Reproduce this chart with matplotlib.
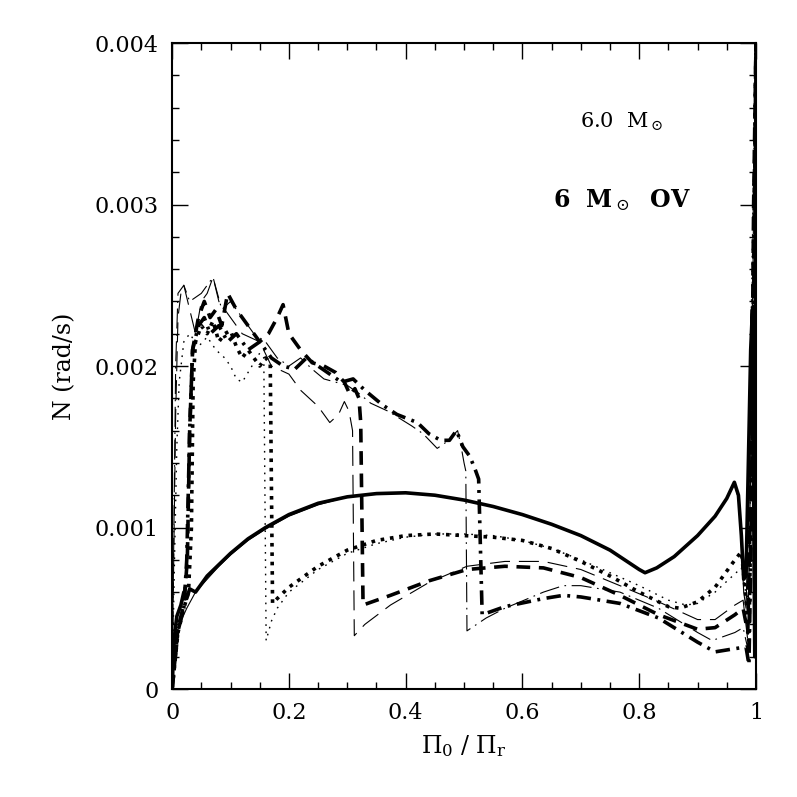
import numpy as np
import matplotlib
matplotlib.use("Agg")
import matplotlib.pyplot as plt
from matplotlib.ticker import FixedLocator, FixedFormatter, MultipleLocator

plt.rcParams["font.family"] = ["DejaVu Serif", "DejaVu Sans"]
plt.rcParams["mathtext.fontset"] = "dejavuserif"

# N in units of 1e-3 rad/s, x = Pi_0 / Pi_r
# solid: ZAMS models
x_solid_ov = [0, .003, .008, .015, .02, .025, .03, .04, .06, .08, .1, .13, .16, .2, .25, .3,
              .35, .4, .45, .5, .55, .6, .65, .7, .75, .8, .81, .83, .86, .9, .93, .95, .963,
              .97, .975, .979, .983, .987, .991, .994, .996, .998, 1.0]
y_solid_ov = [0, .3, .45, .52, .6, .56, .62, .6, .7, .77, .84, .93, 1.0, 1.08, 1.15, 1.19,
              1.21, 1.215, 1.2, 1.17, 1.13, 1.08, 1.02, .95, .86, .74, .72, .75, .82, .95, 1.07,
              1.18, 1.28, 1.2, .95, .68, .7, 1.4, 2.1, 2.35, 1.2, .2, 4.0]
x_solid = [0, .003, .008, .015, .025, .04, .06, .08, .1, .13, .16, .2, .25, .3, .35, .4, .45,
           .5, .55, .6, .65, .7, .75, .8, .81, .83, .86, .9, .93, .95, .963, .97, .975, .979,
           .983, .988, .993, .997, 1.0]
y_solid = [0, .25, .35, .42, .5, .6, .68, .76, .83, .92, .99, 1.07, 1.14, 1.19, 1.21, 1.215,
           1.2, 1.17, 1.13, 1.08, 1.02, .95, .86, .74, .72, .75, .82, .95, 1.07, 1.18, 1.27,
           1.18, .9, .6, .5, 1.2, 2.2, 1.0, 3.8]

# dotted
x_dot = [0, .004, .008, .012, .02, .03, .045, .06, .075, .09, .1, .11, .12, .13, .14, .15,
         .157, .161, .17, .18, .2, .25, .3, .35, .4, .45, .5, .55, .6, .65, .7, .75, .8, .85,
         .88, .9, .93, .96, .975, .985, .99, .995, 1.0]
y_dot = [0, .8, 1.5, 1.9, 2.15, 2.2, 2.12, 2.18, 2.1, 2.05, 2.0, 1.92, 1.9, 1.96, 2.02, 2.08,
         2.05, .3, .42, .5, .6, .74, .84, .9, .94, .96, .96, .95, .92, .87, .8, .72, .64, .55,
         .52, .53, .6, .7, .75, .55, 1.8, 3.0, 4.0]
x_dot_ov = [0, .01, .02, .028, .033, .036, .04, .05, .06, .07, .08, .09, .1, .11, .12, .13,
            .14, .15, .16, .168, .172, .18, .2, .25, .3, .35, .4, .45, .5, .55, .6, .65, .7,
            .75, .8, .85, .87, .9, .93, .96, .975, .982, .988, .993, .997, 1.0]
y_dot_ov = [0, .35, .5, .6, 1.0, 1.9, 2.15, 2.25, 2.2, 2.28, 2.15, 2.2, 2.22, 2.12, 2.05, 2.1,
            2.05, 2.0, 2.05, 2.02, .53, .56, .63, .76, .86, .92, .95, .96, .95, .94, .92, .87,
            .79, .7, .6, .51, .5, .54, .63, .78, .85, .6, .3, 1.5, 3.0, 4.0]

# dashed
x_dash = [0, .003, .006, .01, .015, .02, .03, .04, .05, .06, .07, .08, .09, .1, .12, .15, .17,
          .2, .22, .25, .27, .285, .295, .303, .309, .312, .33, .374, .44, .505, .57, .636, .7,
          .767, .833, .9, .93, .964, .978, .986, .992, .996, 1.0]
y_dash = [0, .9, 1.7, 2.3, 2.45, 2.5, 2.35, 2.2, 2.4, 2.45, 2.55, 2.4, 2.35, 2.3, 2.2, 2.15,
          2.0, 1.95, 1.85, 1.75, 1.65, 1.7, 1.78, 1.72, 1.6, .33, .4, .52, .66, .76, .79, .79,
          .74, .64, .54, .43, .43, .52, .55, .3, 1.6, 3.2, 4.0]
x_dash_ov = [0, .01, .02, .026, .03, .035, .045, .055, .065, .075, .085, .095, .11, .13, .15,
             .165, .18, .19, .2, .22, .24, .26, .28, .295, .305, .313, .32, .323, .327, .374,
             .44, .505, .57, .636, .7, .767, .833, .9, .93, .964, .978, .986, .992, .996, 1.0]
y_dash_ov = [0, .38, .52, .8, 1.6, 2.1, 2.3, 2.4, 2.3, 2.35, 2.25, 2.45, 2.35, 2.25, 2.15, 2.2,
             2.3, 2.38, 2.2, 2.1, 2.02, 2.0, 1.96, 1.9, 1.82, 1.86, 1.8, 1.65, .52, .58, .67,
             .74, .76, .75, .69, .58, .46, .37, .38, .46, .5, .35, 1.4, 3.0, 4.0]

# dash-dot
x_dd = [0, .003, .006, .01, .02, .03, .05, .07, .085, .1, .12, .14, .16, .18, .2, .22, .24,
        .26, .28, .3, .32, .34, .37, .41, .43, .454, .47, .489, .495, .5, .503, .505, .538,
        .57, .636, .67, .7, .767, .833, .9, .925, .964, .978, .986, .992, .996, 1.0]
y_dd = [0, 1.0, 2.0, 2.45, 2.5, 2.4, 2.45, 2.55, 2.35, 2.4, 2.3, 2.2, 2.15, 2.05, 2.0, 2.05,
        1.98, 1.92, 1.9, 1.88, 1.83, 1.77, 1.72, 1.63, 1.58, 1.49, 1.53, 1.6, 1.5, 1.4,
        1.35, .36, .44, .5, .6, .64, .64, .6, .5, .35, .3, .35, .38, .25, 1.5, 3.0, 4.0]
x_dd_ov = [0, .01, .02, .025, .03, .035, .045, .055, .065, .08, .095, .11, .13, .15, .17, .19,
           .21, .23, .25, .27, .29, .31, .33, .36, .385, .42, .44, .46, .475, .487, .498, .51,
           .52, .525, .531, .57, .636, .67, .7, .767, .833, .9, .93, .964, .983, .988, .993,
           .997, 1.0]
y_dd_ov = [0, .36, .5, .8, 1.6, 2.1, 2.25, 2.3, 2.2, 2.25, 2.15, 2.2, 2.1, 2.15, 2.05, 2.0,
           1.98, 2.05, 2.0, 1.95, 1.9, 1.92, 1.85, 1.76, 1.7, 1.65, 1.58, 1.54, 1.54, 1.6, 1.5,
           1.44, 1.35, 1.3, .46, .51, .56, .58, .57, .53, .44, .29, .23, .25, .26, .15, 1.2,
           2.8, 4.0]

x_ticks = [0, 0.2, 0.4, 0.6, 0.8, 1.0]
x_tick_labels = ["0", "0.2", "0.4", "0.6", "0.8", "1"]
y_ticks = [0, 0.001, 0.002, 0.003, 0.004]
y_tick_labels = ["0", "0.001", "0.002", "0.003", "0.004"]

thin = 0.8
thick = 2.6
curves = [
    (x_solid, y_solid, "-", thin),
    (x_solid_ov, y_solid_ov, "-", thick),
    (x_dot, y_dot, (0, (1.2, 4)), thin + 0.2),
    (x_dot_ov, y_dot_ov, (0, (1, 1.6)), thick),
    (x_dash, y_dash, (0, (18, 8)), thin),
    (x_dash_ov, y_dash_ov, (0, (3.8, 2.4)), thick),
    (x_dd, y_dd, (0, (18, 5, 1.5, 5)), thin),
    (x_dd_ov, y_dd_ov, (0, (4, 1.8, 0.8, 1.8)), thick),
]

fig = plt.figure(figsize=(7.97, 7.97), dpi=100)
ax = fig.add_axes([0.216, 0.1355, 0.7325, 0.8105])

for xs, ys, ls, lw in curves:
    ax.plot(xs, np.array(ys) * 1e-3, color="black", linestyle=ls, linewidth=lw)

ax.set_xlim(0, 1)
ax.set_ylim(0, 0.004)
ax.xaxis.set_major_locator(FixedLocator(x_ticks))
ax.xaxis.set_major_formatter(FixedFormatter(x_tick_labels))
ax.xaxis.set_minor_locator(MultipleLocator(0.05))
ax.yaxis.set_major_locator(FixedLocator(y_ticks))
ax.yaxis.set_major_formatter(FixedFormatter(y_tick_labels))
ax.yaxis.set_minor_locator(MultipleLocator(0.0002))
ax.tick_params(which="both", direction="in", top=True, right=True, width=1.0,
               labelsize=16)
ax.tick_params(which="major", length=11.5)
ax.tick_params(which="minor", length=5)
ax.tick_params(axis="y", pad=10)
ax.tick_params(axis="x", pad=9)
for sp in ax.spines.values():
    sp.set_linewidth(1.5)

ax.text(0.699, 0.00351, r"6.0  M$_\odot$", fontsize=15, va="center")
ax.text(0.652, 0.00303, r"6  M$_\odot$  OV", fontsize=17, fontweight="bold", va="center")

fig.text(65 / 797, 1 - 366 / 797, "N (rad/s)", rotation=90, ha="center", va="center",
         fontsize=17)
fig.text(464 / 797, 1 - 746 / 797, r"$\Pi_0$ / $\Pi_\mathrm{r}$", ha="center",
         va="center", fontsize=17)

fig.savefig("out.png", dpi=100)
